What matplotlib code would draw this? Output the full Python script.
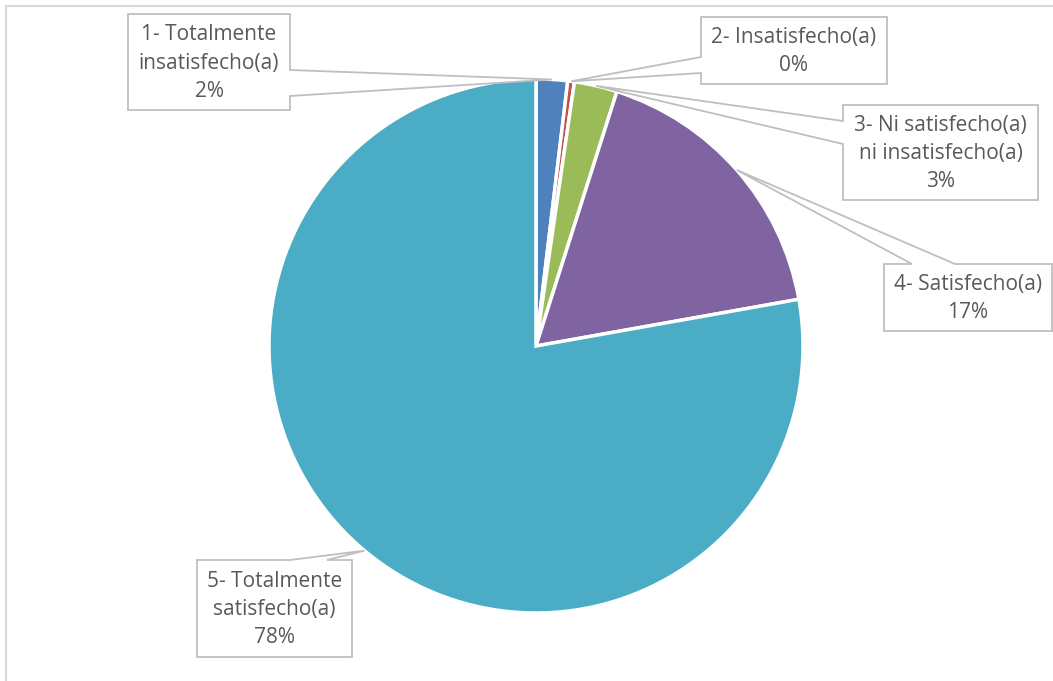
import numpy as np
import matplotlib
matplotlib.use("Agg")
import matplotlib.pyplot as plt
from matplotlib.patches import Polygon, Rectangle

# datos (porcentajes)
categorias = ["1- Totalmente\ninsatisfecho(a)", "2- Insatisfecho(a)",
              "3- Ni satisfecho(a)\nni insatisfecho(a)", "4- Satisfecho(a)",
              "5- Totalmente\nsatisfecho(a)"]
valores = [1.9, 0.4, 2.6, 17.3, 77.8]
colores = ["#4F81BD", "#C0504D", "#9BBB59", "#8064A2", "#4BACC6"]

W, H = 1053, 681
plt.rcParams['font.family'] = ['Open Sans', 'DejaVu Sans']

fig = plt.figure(figsize=(W / 100, H / 100), dpi=100)
ax = fig.add_axes([0, 0, 1, 1])

cx, cy, R = 536, H - 346, 267
wedges, _ = ax.pie(valores, colors=colores, startangle=90, counterclock=False,
                   center=(cx, cy), radius=R,
                   wedgeprops=dict(edgecolor="white", linewidth=2.5))
ax.set_xlim(0, W)
ax.set_ylim(0, H)
ax.set_aspect("equal")
ax.axis("off")

# borde del grafico
ax.add_patch(Rectangle((6, -10), W + 10, H - 6 + 10, fill=False,
                       edgecolor="#D9D9D9", linewidth=1.5, zorder=0))

# cajas de etiquetas: (x0, y0, x1, y1) en pixeles desde arriba, lado, base
cajas = [
    ((128, 14, 290, 110), "right", (70, 96)),
    ((701, 17, 887, 84), "left", (57, 73)),
    ((843, 105, 1038, 200), "left", (121, 144)),
    ((884, 264, 1052, 331), "top", (912, 955)),
    ((197, 560, 352, 657), "top", (290, 327)),
]


def p(x, y):
    return (x, H - y)


for i, (w, (box, lado, base)) in enumerate(zip(wedges, cajas)):
    ang = np.deg2rad((w.theta1 + w.theta2) / 2)
    apex = (cx + R * np.cos(ang), cy + R * np.sin(ang))
    x0, y0, x1, y1 = box
    b1, b2 = base
    if lado == "top":
        pts = [p(x0, y0), p(b1, y0), apex, p(b2, y0), p(x1, y0), p(x1, y1), p(x0, y1)]
    elif lado == "right":
        pts = [p(x0, y0), p(x1, y0), p(x1, b1), apex, p(x1, b2), p(x1, y1), p(x0, y1)]
    else:
        pts = [p(x0, y0), p(x1, y0), p(x1, y1), p(x0, y1), p(x0, b2), apex, p(x0, b1)]
    ax.add_patch(Polygon(pts, closed=True, facecolor="white", edgecolor="#BFBFBF",
                         linewidth=1.3, zorder=5))
    texto = categorias[i] + "\n" + f"{round(valores[i])}%"
    ax.text((x0 + x1) / 2, H - (y0 + y1) / 2 - 1, texto, ha="center", va="center",
            fontsize=15, color="#595959", linespacing=1.45, zorder=6)

fig.savefig("out.png", dpi=100)
